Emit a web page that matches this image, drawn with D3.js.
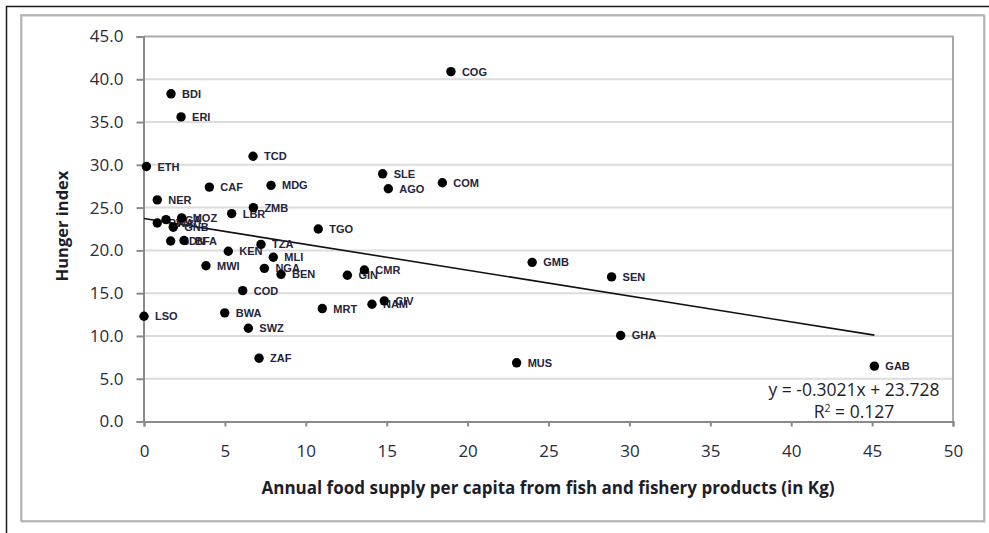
<!DOCTYPE html>
<html>
<head>
<meta charset="utf-8">
<script src="https://cdn.jsdelivr.net/npm/d3@7"></script>
<style>
  html, body { margin: 0; padding: 0; background: #fff; }
  svg { display: block; }
</style>
</head>
<body>
<svg id="chart" width="989" height="533"></svg>
<script>
// Country codes, fish supply per capita (kg/year) and hunger index
const countries = ["COG","BDI","ERI","ETH","TCD","CAF","MDG","NER","ZMB","LBR",
  "MOZ","UGA","RWA","GNB","SDN","BFA","TGO","TZA","KEN","MLI",
  "MWI","NGA","BEN","GIN","CMR","COD","MRT","NAM","CIV","SLE",
  "AGO","COM","LSO","BWA","SWZ","ZAF","GMB","SEN","GHA","GAB","MUS"];
const fishSupply = [18.97, 1.67, 2.29, 0.15, 6.74, 4.04, 7.85, 0.82, 6.76, 5.42,
  2.33, 1.36, 0.82, 1.81, 1.65, 2.47, 10.77, 7.23, 5.21, 7.99,
  3.83, 7.44, 8.47, 12.57, 13.62, 6.10, 11.02, 14.09, 14.85, 14.75,
  15.10, 18.44, 0.00, 4.99, 6.45, 7.11, 23.99, 28.90, 29.46, 45.14, 23.03];
const hungerIndex = [40.9, 38.3, 35.6, 29.8, 31.0, 27.4, 27.6, 25.9, 25.0, 24.3,
  23.8, 23.6, 23.2, 22.7, 21.1, 21.15, 22.5, 20.7, 19.9, 19.2,
  18.2, 17.9, 17.2, 17.1, 17.7, 15.3, 13.2, 13.7, 14.1, 28.95,
  27.2, 27.9, 12.3, 12.7, 10.9, 7.4, 18.6, 16.9, 10.05, 6.47, 6.86];

// Axis ticks and linear trend (as reported on the chart)
const xTicks = [0, 5, 10, 15, 20, 25, 30, 35, 40, 45, 50];
const yTicks = [0, 5, 10, 15, 20, 25, 30, 35, 40, 45];
const trendSlope = -0.3021;
const trendIntercept = 23.728;
const rSquared = "0.127";

const xTitle = "Annual food supply per capita from fish and fishery products  (in Kg)";
const yTitle = "Hunger index";

const svg = d3.select("#chart");

// Outer frames
svg.append("line").attr("x1", 6).attr("y1", 6.5).attr("x2", 989).attr("y2", 6.5)
  .attr("stroke", "#1a1a1a").attr("stroke-width", 1.5);
svg.append("line").attr("x1", 6.5).attr("y1", 6).attr("x2", 6.5).attr("y2", 533)
  .attr("stroke", "#1a1a1a").attr("stroke-width", 1.5);
svg.append("rect").attr("x", 22).attr("y", 16).attr("width", 963).attr("height", 506)
  .attr("fill", "none").attr("stroke", "#d4d4d4").attr("stroke-width", 1.5);
svg.append("rect").attr("x", 21).attr("y", 15).attr("width", 963).attr("height", 506)
  .attr("fill", "none").attr("stroke", "#a8a8a8").attr("stroke-width", 1.5);

const x = d3.scaleLinear().domain([0, 50]).range([144, 953]);
const y = d3.scaleLinear().domain([0, 45]).range([421.5, 36.5]);

// Horizontal gridlines
svg.append("g").selectAll("line").data(yTicks.filter(v => v > 0 && v < 45)).join("line")
  .attr("x1", x(0)).attr("x2", x(50))
  .attr("y1", d => y(d)).attr("y2", d => y(d))
  .attr("stroke", "#dcdcdc").attr("stroke-width", 2);

// Plot area border (top and right)
svg.append("path")
  .attr("d", `M${x(0)},${y(45)}H${x(50)}V${y(0)}`)
  .attr("fill", "none").attr("stroke", "#a9a9a9").attr("stroke-width", 2);

const tickFont = "'Open Sans', sans-serif";

// Y axis
const yAxis = svg.append("g").attr("transform", `translate(${x(0) - 0.5},0)`)
  .call(d3.axisLeft(y).tickValues(yTicks).tickFormat(d3.format(".1f")).tickSize(7).tickPadding(13));
yAxis.select(".domain").attr("stroke", "#8a8a8a").attr("stroke-width", 2);
yAxis.selectAll(".tick line").attr("stroke", "#8a8a8a").attr("stroke-width", 2);
yAxis.selectAll(".tick text").attr("font-family", tickFont).attr("font-size", 17)
  .attr("fill", "#2b2b3a");

// X axis
const xAxis = svg.append("g").attr("transform", `translate(0,${y(0)})`)
  .call(d3.axisBottom(x).tickValues(xTicks).tickFormat(d3.format("d")).tickSize(5).tickPadding(18));
xAxis.select(".domain").attr("stroke", "#8a8a8a").attr("stroke-width", 2);
xAxis.selectAll(".tick line").attr("stroke", "#8a8a8a").attr("stroke-width", 2);
xAxis.selectAll(".tick text").attr("font-family", tickFont).attr("font-size", 17)
  .attr("fill", "#2b2b3a");

// Axis titles
svg.append("text").attr("x", 548).attr("y", 494).attr("text-anchor", "middle")
  .attr("font-family", "'Open Sans', sans-serif").attr("font-weight", "bold")
  .attr("font-size", 17).attr("fill", "#1e1e2a").text(xTitle);
svg.append("text").attr("transform", "translate(68,226) rotate(-90)")
  .attr("text-anchor", "middle")
  .attr("font-family", "'Open Sans', sans-serif").attr("font-weight", "bold")
  .attr("font-size", 16.5).attr("fill", "#1e1e2a").text(yTitle);

const data = countries.map((c, i) => ({ code: c, fish: fishSupply[i], hunger: hungerIndex[i] }));

// Trend line over the observed x range
const xMin = d3.min(fishSupply), xMax = d3.max(fishSupply);
svg.append("line")
  .attr("x1", x(xMin)).attr("y1", y(trendIntercept + trendSlope * xMin))
  .attr("x2", x(xMax)).attr("y2", y(trendIntercept + trendSlope * xMax))
  .attr("stroke", "#111").attr("stroke-width", 1.6);

// Point labels (drawn beneath the markers)
svg.append("g").selectAll("text").data(data).join("text")
  .attr("x", d => x(d.fish) + 11).attr("y", d => y(d.hunger))
  .attr("dy", "0.36em")
  .attr("font-family", "'Liberation Sans', Arial, sans-serif").attr("font-weight", "bold")
  .attr("font-size", 11).attr("fill", "#24243c")
  .text(d => d.code);

// Markers
svg.append("g").selectAll("circle").data(data).join("circle")
  .attr("cx", d => x(d.fish)).attr("cy", d => y(d.hunger)).attr("r", 4.7)
  .attr("fill", "#000");

// Trend equation
const eq = svg.append("text").attr("x", 854).attr("text-anchor", "middle")
  .attr("font-family", "'Open Sans', sans-serif").attr("font-size", 17.5).attr("fill", "#1e1e2a");
eq.append("tspan").attr("x", 854).attr("y", 396)
  .text(`y = ${trendSlope}x + ${trendIntercept}`);
const r2 = eq.append("tspan").attr("x", 854).attr("y", 418);
r2.append("tspan").text("R");
r2.append("tspan").attr("dy", -6).attr("font-size", 10.5).text("2");
r2.append("tspan").attr("dy", 6).text(` = ${rSquared}`);
</script>
</body>
</html>
